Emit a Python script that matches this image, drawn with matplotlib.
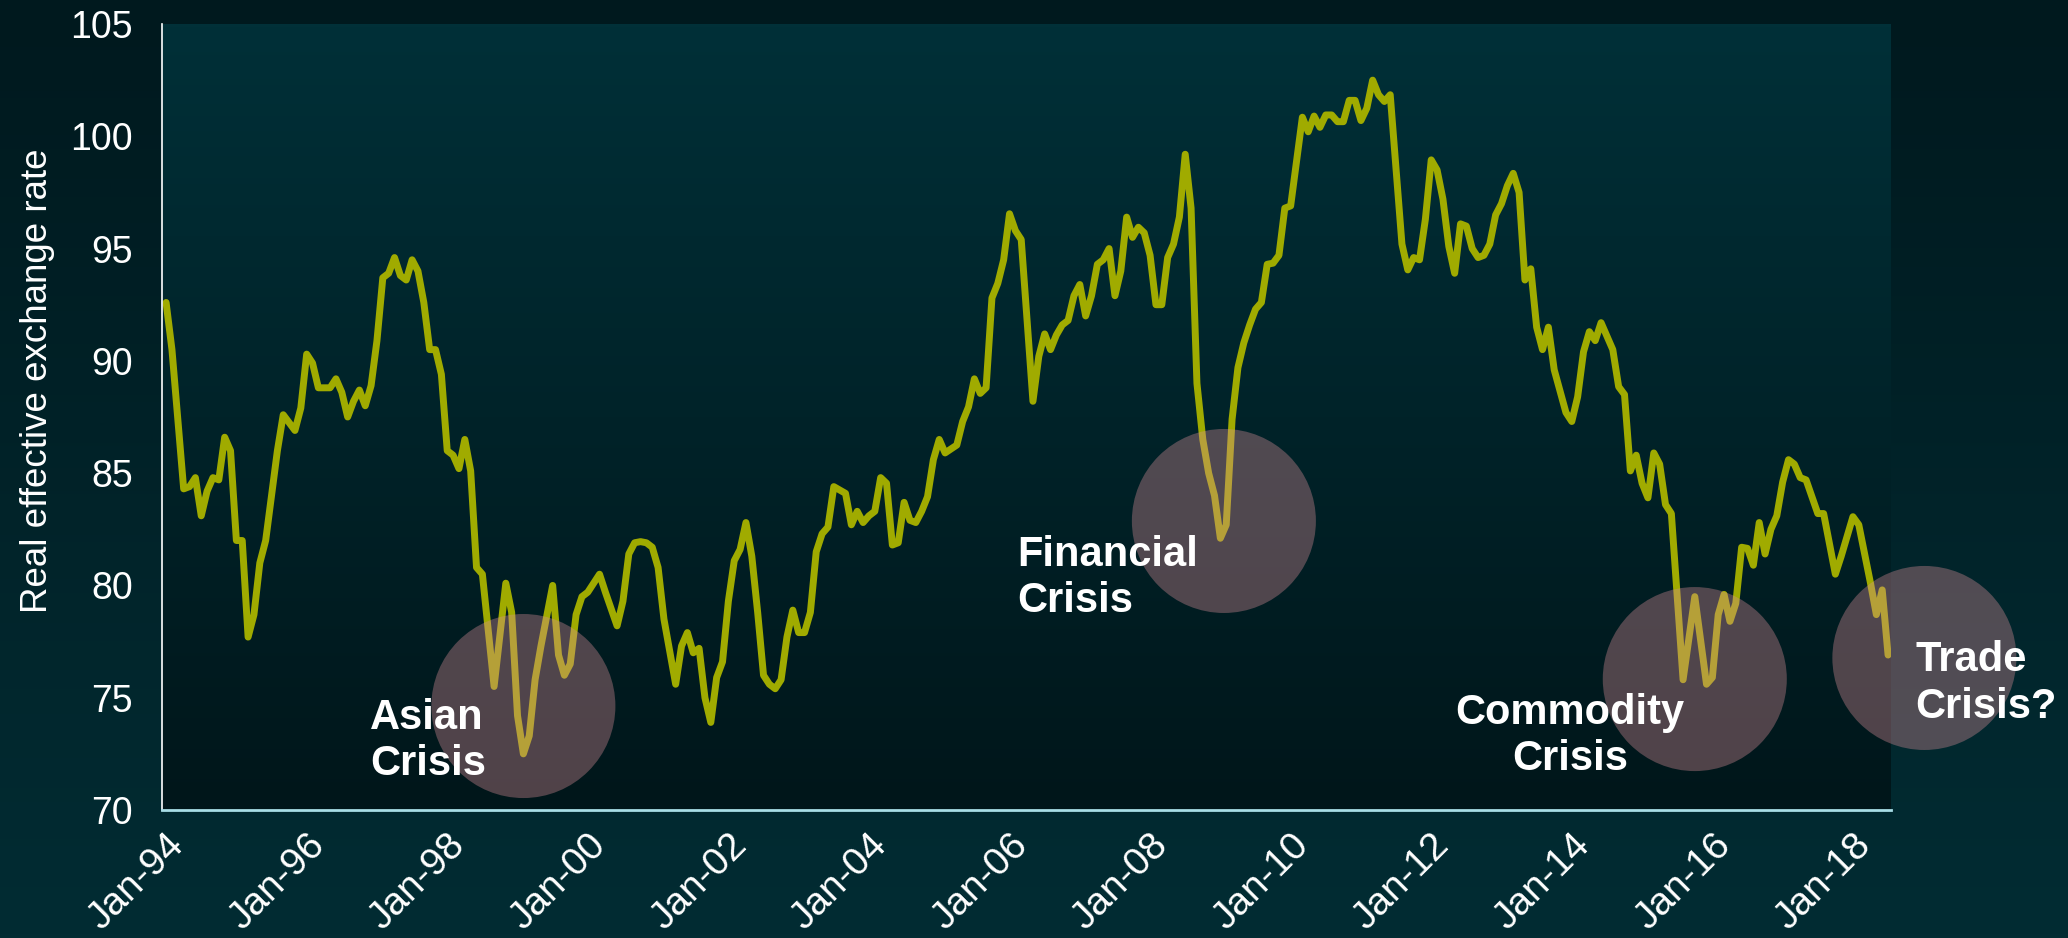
import numpy as np
import matplotlib
matplotlib.use("Agg")
import matplotlib.pyplot as plt
from matplotlib.colors import LinearSegmentedColormap

plt.rcParams['font.family'] = ['Liberation Sans', 'DejaVu Sans']

# ---- data (months since Jan-1994, real effective exchange rate) ----
month_idx = [
    0, 1, 3, 4, 5, 6, 7, 8, 9, 10, 11, 12, 13, 14, 15, 16, 17, 19, 20, 22, 23,
    24, 25, 26, 28, 29, 30, 31, 32, 33, 34, 35, 36, 37, 38, 39, 40, 41, 42, 43,
    44, 45, 46, 47, 48, 49, 50, 51, 52, 53, 54, 56, 58, 59, 60, 61, 62, 63, 64,
    66, 67, 68, 69, 70, 71, 72, 74, 75, 77, 78, 79, 80, 81, 82, 83, 84, 85, 87,
    88, 89, 90, 91, 92, 93, 94, 95, 96, 97, 98, 99, 100, 101, 102, 103, 104,
    105, 106, 107, 108, 109, 110, 111, 112, 113, 114, 115, 116, 117, 118, 119,
    120, 121, 122, 123, 124, 125, 126, 127, 128, 129, 130, 131, 132, 133, 135,
    136, 137, 138, 139, 140, 141, 142, 143, 144, 145, 146, 148, 149, 150, 151,
    152, 153, 154, 155, 156, 157, 158, 159, 160, 161, 162, 163, 164, 165, 166,
    167, 168, 169, 170, 171, 172, 173, 174, 175, 176, 177, 178, 179, 180, 181,
    182, 183, 184, 185, 186, 187, 188, 189, 190, 191, 192, 194, 195, 196, 197,
    198, 199, 200, 201, 202, 203, 204, 205, 206, 207, 208, 209, 210, 211, 212,
    213, 214, 215, 216, 217, 218, 219, 220, 221, 222, 223, 224, 225, 226, 227,
    228, 229, 230, 231, 232, 233, 234, 235, 236, 237, 239, 240, 241, 242, 243,
    244, 245, 247, 248, 249, 250, 251, 252, 253, 254, 255, 256, 257, 259, 261,
    263, 264, 265, 266, 267, 268, 269, 270, 271, 272, 273, 274, 275, 276, 277,
    278, 279, 280, 282, 283, 285, 286, 288, 289, 291, 292, 293, 294,
]
rate = [
    92.6, 90.5, 84.3, 84.4, 84.8, 83.1, 84.2, 84.8, 84.7, 86.6, 86.0, 82.0, 82.0,
    77.7, 78.7, 81.0, 82.0, 86.0, 87.6, 86.9, 87.9,
    90.3, 89.9, 88.8, 88.8, 89.2, 88.6, 87.5, 88.2, 88.7, 88.0, 88.9, 90.9, 93.7,
    93.9, 94.6, 93.8, 93.6, 94.5, 94.0,
    92.6, 90.5, 90.5, 89.4, 86.0, 85.8, 85.2, 86.5, 85.1, 80.8, 80.5, 75.5, 80.1,
    78.8, 74.2, 72.5, 73.3, 75.8, 77.3,
    80.0, 76.9, 76.0, 76.5, 78.7, 79.5, 79.7, 80.5, 79.7, 78.2, 79.3, 81.4, 81.9,
    81.95, 81.9, 81.7, 80.8, 78.5, 75.6,
    77.3, 77.9, 77.0, 77.2, 75.0, 73.9, 75.9, 76.6, 79.3, 81.1, 81.6, 82.8, 81.3,
    78.8, 76.0, 75.6, 75.4,
    75.8, 77.7, 78.9, 77.9, 77.9, 78.8, 81.5, 82.3, 82.6, 84.4, 84.25, 84.1, 82.7,
    83.3, 82.8,
    83.1, 83.3, 84.8, 84.55, 81.8, 81.9, 83.7, 82.9, 82.8, 83.3, 83.95, 85.6, 86.5,
    85.9, 86.25,
    87.3, 87.95, 89.2, 88.55, 88.8, 92.8, 93.45, 94.5, 96.55, 95.8, 95.4, 88.2,
    90.2, 91.2, 90.5,
    91.15, 91.6, 91.8, 92.9, 93.4, 92.0, 92.9, 94.3, 94.5, 95.0, 92.9, 94.0, 96.4,
    95.5, 95.95,
    95.7, 94.7, 92.5, 92.5, 94.6, 95.2, 96.4, 99.2, 96.8, 89.0, 86.5, 85.0, 84.0,
    82.1, 82.7,
    87.4, 89.7, 90.8, 91.6, 92.3, 92.6, 94.3, 94.35, 94.7, 96.8, 96.9, 100.85,
    100.2, 100.9, 100.4,
    100.95, 100.95, 100.65, 100.65, 101.6, 101.6, 100.7, 101.25, 102.5, 101.85,
    101.55, 101.85, 98.5, 95.2, 94.05,
    94.6, 94.5, 96.3, 98.95, 98.5, 97.2, 95.1, 93.9, 96.1, 96.0, 95.0, 94.6, 94.7,
    95.2, 96.5,
    97.0, 97.8, 98.35, 97.5, 93.6, 94.1, 91.5, 90.5, 91.5, 89.6, 87.7, 87.3, 88.4,
    90.4, 91.3,
    90.9, 91.7, 90.5, 88.85, 88.5, 85.1, 85.8, 84.55, 83.9, 85.9, 85.4, 83.6, 83.2,
    75.8, 79.5,
    75.6, 75.9, 78.7, 79.6, 78.4, 79.2, 81.7, 81.65, 80.9, 82.8, 81.4, 82.5, 83.1,
    84.6, 85.6,
    85.4, 84.8, 84.7, 83.2, 83.2, 80.5, 81.3, 83.06, 82.7, 80.1, 78.7, 79.8, 76.9,
]

tick_pos = [0, 24, 48, 72, 96, 120, 144, 168, 192, 216, 240, 264, 288]
tick_labels = ["Jan-94", "Jan-96", "Jan-98", "Jan-00", "Jan-02", "Jan-04",
               "Jan-06", "Jan-08", "Jan-10", "Jan-12", "Jan-14", "Jan-16",
               "Jan-18"]
y_ticks = [70, 75, 80, 85, 90, 95, 100, 105]

# crisis annotations: circle centre (month index, value) and label anchor
crisis_labels = ["Asian\nCrisis", "Financial\nCrisis", "Commodity\nCrisis",
                 "Trade\nCrisis?"]
circle_x = [61.0, 180.6, 261.0, 300.2]
circle_y = [74.63, 82.87, 75.83, 76.77]
label_x = [34.8, 145.3, 239.7, 298.6]
label_y = [75.0, 82.25, 75.2, 77.55]
label_ha = ["left", "left", "center", "left"]

# ---- figure ----
W, H = 2068, 938
fig = plt.figure(figsize=(W / 100, H / 100), dpi=100)

# figure background gradient (dark top -> teal bottom)
bg = fig.add_axes([0, 0, 1, 1], zorder=-5)
bg_cmap = LinearSegmentedColormap.from_list("bg", ["#00191e", "#022c33"])
bg.imshow(np.linspace(0, 1, 256).reshape(-1, 1), cmap=bg_cmap, aspect="auto",
          extent=(0, 1, 0, 1), origin="upper")
bg.set_axis_off()

left, bottom = 162 / W, 1 - 810 / H
width, height = 1729 / W, 786 / H
ax = fig.add_axes([left, bottom, width, height])
ax.patch.set_visible(False)

xlim = (-0.7, 294.5)
ylim = (70, 105)
pa_cmap = LinearSegmentedColormap.from_list("pa", ["#013038", "#00161a"])
ax.imshow(np.linspace(0, 1, 256).reshape(-1, 1), cmap=pa_cmap, aspect="auto",
          extent=(xlim[0], xlim[1], ylim[0], ylim[1]), origin="upper", zorder=0)

ax.plot(month_idx, rate, color="#a0ab00", lw=5, solid_joinstyle="round",
        solid_capstyle="round", zorder=2)

# translucent circles (on top of the line)
ax.scatter(circle_x, circle_y, s=132.5 ** 2, color="#db8f99", alpha=0.37,
           edgecolors="none", zorder=3, clip_on=False)

for t, x, y, ha in zip(crisis_labels, label_x, label_y, label_ha):
    ax.text(x, y, t, ha=ha, va="top", color="white", fontsize=30,
            fontweight="bold", zorder=4, linespacing=1.2, clip_on=False)

ax.set_xlim(*xlim)
ax.set_ylim(*ylim)
ax.set_yticks(y_ticks)
ax.set_xticks(tick_pos)
ax.set_xticklabels(tick_labels, rotation=45, ha="right", va="top",
                   rotation_mode="anchor")
ax.tick_params(axis="x", length=0, colors="white", labelsize=28, pad=12)
ax.tick_params(axis="y", length=0, colors="white", labelsize=27, pad=21)

for s in ["top", "right"]:
    ax.spines[s].set_visible(False)
ax.spines["left"].set_color("white")
ax.spines["left"].set_linewidth(1.2)
ax.spines["bottom"].set_color("#a8dde6")
ax.spines["bottom"].set_linewidth(2)

ax.set_ylabel("Real effective exchange rate", color="white", fontsize=26.5)
ax.yaxis.set_label_coords(-0.062, 0.546)

fig.savefig("out.png", dpi=100, facecolor=fig.get_facecolor())
